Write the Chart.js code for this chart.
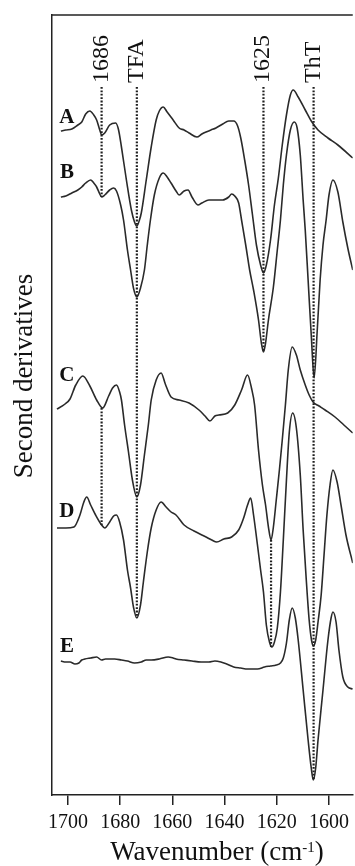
<!DOCTYPE html>
<html>
<head>
<meta charset="utf-8">
<script src="https://cdn.jsdelivr.net/npm/chart.js@4"></script>
<style>
  html, body { margin: 0; padding: 0; background: #fff; }
  canvas { display: block; }
</style>
</head>
<body>
<canvas id="spectra" width="355" height="866"></canvas>
<script>
// second derivative spectra A-E, stacked with vertical offsets (arbitrary units)
// wavenumbers in cm-1

const wnA = [1702.7,1700.8,1698.5,1696.2,1694.7,1693.2,1691.6,1690.1,1689.0,1687.8,1687.1,1685.9,1684.0,1681.7,1680.6,1679.5,1677.6,1675.7,1674.5,1673.6,1672.6,1671.9,1670.0,1668.1,1666.2,1665.0,1663.5,1662.0,1659.7,1657.4,1655.5,1653.6,1650.6,1648.7,1647.1,1645.2,1643.3,1640.7,1638.4,1636.5,1635.0,1633.8,1632.3,1630.8,1629.3,1627.8,1626.2,1625.1,1624.0,1622.4,1620.9,1619.4,1617.9,1616.3,1614.8,1613.7,1611.8,1609.1,1606.8,1604.2,1600.4,1596.6,1590.9];
const dA = [664,665,666,670,673,681,684,680,675,665,660,662,670,672,665,648,615,585,573,569,575,582,615,648,675,684,688,683,675,667,665,662,658,661,663,665,667,671,674,674,669,657,635,610,580,550,530,522,530,555,590,617,650,680,700,705,698,685,674,665,657,650,637];

const wnB = [1702.7,1700.8,1698.5,1696.2,1694.7,1693.2,1691.3,1690.1,1689.0,1687.8,1687.1,1685.9,1684.0,1682.5,1681.4,1679.8,1678.7,1677.2,1676.0,1674.9,1673.6,1672.2,1670.7,1669.6,1668.4,1666.9,1665.0,1663.5,1662.0,1660.5,1658.6,1657.4,1655.5,1654.0,1652.5,1650.2,1648.7,1646.0,1643.3,1640.7,1638.4,1637.3,1636.1,1634.6,1633.5,1631.9,1630.4,1628.9,1627.0,1625.9,1625.1,1624.3,1623.2,1621.3,1619.8,1618.6,1617.5,1616.3,1614.8,1613.3,1612.2,1611.0,1609.9,1609.1,1608.0,1606.8,1605.7,1604.5,1603.4,1602.3,1601.1,1600.0,1598.5,1596.6,1594.7,1592.8,1590.9];
const dB = [598,599,602,605,608,612,615,612,608,601,598,600,605,607,604,590,575,545,525,507,498,507,525,550,575,600,617,622,618,612,604,600,604,605,598,590,592,595,595,595,598,601,599,592,575,550,525,505,475,452,443,452,475,508,545,575,610,640,665,673,667,640,595,565,515,460,417,465,515,550,575,600,615,603,573,547,525];

const wnC = [1704.2,1701.1,1699.2,1697.0,1694.3,1691.6,1689.0,1686.7,1684.4,1682.9,1681.4,1680.2,1679.5,1678.3,1676.8,1675.3,1673.6,1672.2,1670.7,1669.2,1668.1,1666.2,1664.3,1662.7,1660.5,1657.4,1653.6,1649.8,1647.5,1645.6,1643.7,1642.2,1638.8,1636.1,1633.5,1631.2,1629.7,1628.5,1627.0,1625.5,1624.3,1623.2,1622.2,1621.3,1620.2,1619.0,1617.9,1616.7,1615.6,1614.1,1612.5,1611.0,1609.1,1607.6,1606.1,1603.8,1601.5,1597.7,1594.3,1590.9];
const dC = [386,391,396,410,419,409,395,387,399,407,410,403,395,370,343,315,298,310,340,370,395,415,422,411,398,395,392,385,379,374,379,380,382,390,405,420,407,390,345,310,290,268,255,268,295,325,355,390,425,448,440,425,410,400,393,389,385,378,370,362];

const wnD = [1704.2,1700.8,1697.7,1695.4,1693.9,1692.8,1691.3,1689.4,1687.1,1685.9,1684.0,1682.5,1681.4,1680.2,1678.7,1677.2,1676.0,1674.9,1673.6,1672.2,1671.1,1669.6,1668.1,1666.2,1664.3,1662.4,1660.5,1658.6,1655.5,1651.7,1647.1,1644.9,1643.0,1640.3,1637.3,1634.6,1632.7,1631.2,1630.0,1628.9,1627.4,1626.2,1625.1,1624.0,1622.8,1621.9,1620.9,1619.8,1618.6,1617.5,1616.3,1615.2,1613.9,1612.5,1611.0,1609.9,1608.7,1607.6,1606.7,1606.0,1605.1,1604.2,1603.0,1601.9,1600.8,1599.6,1598.5,1596.9,1595.4,1593.5,1590.9];
const dD = [267,267,268,280,293,298,290,280,270,267,273,279,280,273,255,225,207,188,177,190,213,243,267,285,293,288,283,280,270,264,258,255,253,256,258,265,277,290,297,280,250,225,203,170,153,148,153,167,203,255,315,363,382,367,320,265,215,175,155,149,155,173,200,240,280,310,325,313,290,260,232];

const wnE = [1702.7,1700.8,1699.2,1697.3,1695.8,1694.7,1693.5,1691.3,1689.0,1687.1,1685.6,1684.4,1682.1,1679.5,1677.2,1674.5,1671.9,1670.0,1668.1,1665.0,1661.6,1659.7,1658.6,1655.5,1652.5,1649.0,1646.0,1643.7,1641.4,1639.2,1636.5,1633.8,1631.2,1627.4,1624.7,1622.4,1620.2,1618.6,1617.5,1616.3,1615.2,1614.1,1612.9,1611.8,1609.9,1608.0,1606.8,1606.0,1605.1,1604.2,1602.3,1600.4,1599.2,1598.5,1597.3,1596.2,1594.7,1592.8,1590.9];
const dE = [134,133,133,131,132,135,136,137,138,135,136,136,136,135,134,132,133,135,135,136,138,137,136,135,134,133,133,134,133,131,128,127,126,126,128,129,130,132,137,152,175,187,177,155,105,55,27,15,27,55,105,155,177,183,173,145,118,108,106];

const seriesNames = ['A', 'B', 'C', 'D', 'E'];
const xTicks = [1700, 1680, 1660, 1640, 1620, 1600];

// band markers (label text on top of the dotted guides)
const markerWn = [1687.1, 1673.6, 1625.1, 1605.9];
const markerText = ['1686', 'TFA', '1625', 'ThT'];

// dotted guides: wavenumber, upper end, lower end
const guideWn = [1687.1, 1687.1, 1673.6, 1625.1, 1622.2, 1605.9];
const guideTop = [708, 387, 708, 708, 255, 708];
const guideBottom = [598, 270, 177, 443, 148, 15];

const serif = '"Liberation Serif", "Times New Roman", serif';

function zip(xs, ys) {
  return xs.map((x, i) => ({ x: x, y: ys[i] }));
}

const datasets = [];
guideWn.forEach((w, i) => {
  datasets.push({
    data: [{ x: w, y: guideTop[i] }, { x: w, y: guideBottom[i] }],
    borderColor: '#1e1e1e',
    borderWidth: 2.2,
    borderDash: [1.8, 1.6],
    pointRadius: 0
  });
});
[[wnA, dA], [wnB, dB], [wnC, dC], [wnD, dD], [wnE, dE]].forEach((c, i) => {
  datasets.push({
    label: seriesNames[i],
    data: zip(c[0], c[1]),
    borderColor: '#2a2a2a',
    borderWidth: 1.6,
    pointRadius: 0,
    cubicInterpolationMode: 'monotone'
  });
});

// text + top frame edge, drawn through the chart's scales
const decorations = {
  id: 'decorations',
  afterDraw(chart, args, opts) {
    const { ctx, chartArea, scales } = chart;
    const x = scales.x, y = scales.y;
    ctx.save();
    ctx.strokeStyle = '#222';
    ctx.lineWidth = 1.5;
    ctx.beginPath();
    ctx.moveTo(chartArea.left, chartArea.top);
    ctx.lineTo(chartArea.right, chartArea.top);
    ctx.stroke();

    ctx.fillStyle = '#111';
    ctx.textBaseline = 'alphabetic';

    // rotated band labels
    ctx.font = '24px ' + serif;
    ctx.textAlign = 'left';
    markerWn.forEach((w, i) => {
      ctx.save();
      ctx.translate(x.getPixelForValue(w) + 6, y.getPixelForValue(opts.markerBase));
      ctx.rotate(-Math.PI / 2);
      ctx.fillText(markerText[i], 0, 0);
      ctx.restore();
    });

    // curve letters
    ctx.font = 'bold 21px ' + serif;
    ctx.textAlign = 'center';
    seriesNames.forEach((s, i) => {
      ctx.fillText(s, x.getPixelForValue(opts.tagWn), y.getPixelForValue(opts.tagY[i]));
    });

    // y axis title
    ctx.font = '27px ' + serif;
    ctx.save();
    ctx.translate(32, 376);
    ctx.rotate(-Math.PI / 2);
    ctx.fillText('Second derivatives', 0, 0);
    ctx.restore();

    // x axis title with superscript
    const p1 = 'Wavenumber (cm', sup = '-1', p3 = ')';
    ctx.textAlign = 'left';
    ctx.font = '27px ' + serif;
    const w1 = ctx.measureText(p1).width, w3 = ctx.measureText(p3).width;
    ctx.font = '15px ' + serif;
    const w2 = ctx.measureText(sup).width;
    let tx = 217 - (w1 + w2 + w3) / 2;
    ctx.font = '27px ' + serif;
    ctx.fillText(p1, tx, 860);
    tx += w1;
    ctx.font = '15px ' + serif;
    ctx.fillText(sup, tx, 852);
    tx += w2;
    ctx.font = '27px ' + serif;
    ctx.fillText(p3, tx, 860);
    ctx.restore();
  }
};

new Chart(document.getElementById('spectra'), {
  type: 'line',
  data: { datasets: datasets },
  plugins: [decorations],
  options: {
    responsive: false,
    animation: false,
    devicePixelRatio: 1,
    layout: { padding: { top: 15, right: 0, bottom: 0, left: 0 } },
    plugins: {
      legend: { display: false },
      tooltip: { enabled: false },
      decorations: {
        markerBase: 712,
        tagWn: 1700.4,
        tagY: [672, 617, 414, 278, 143]
      }
    },
    scales: {
      x: {
        type: 'linear',
        reverse: true,
        min: 1590.9,
        max: 1706.1,
        afterBuildTicks: (s) => { s.ticks = xTicks.map(v => ({ value: v })); },
        afterFit: (s) => { s.height = 71; },
        grid: { display: true, drawOnChartArea: false, drawTicks: true, tickLength: 10, color: '#222', lineWidth: 1.5 },
        border: { display: true, color: '#222', width: 1.5 },
        ticks: {
          color: '#111',
          padding: 6,
          maxRotation: 0,
          autoSkip: false,
          font: { family: serif, size: 20 },
          callback: (v) => String(v)
        }
      },
      y: {
        min: 0,
        max: 780,
        afterFit: (s) => { s.width = 52; },
        grid: { display: false },
        border: { display: true, color: '#222', width: 1.5 },
        ticks: { display: false }
      }
    }
  }
});
</script>
</body>
</html>
